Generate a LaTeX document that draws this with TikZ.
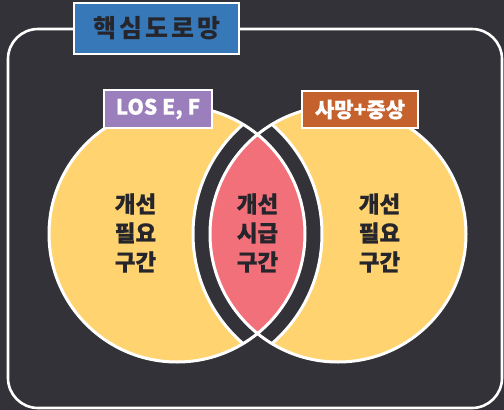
\documentclass[tikz,border=0pt]{standalone}
\usepackage{fontspec}
\newfontfamily\kr{Noto Sans CJK KR}[BoldFeatures={FakeBold=0.6}]
\newfontfamily\krt{Noto Sans CJK KR}[LetterSpace=12]
\definecolor{bg}{HTML}{333238}
\definecolor{yel}{HTML}{FFD36F}
\definecolor{lensred}{HTML}{F2707A}
\definecolor{tblue}{HTML}{3779B8}
\definecolor{tpurple}{HTML}{9A7FBC}
\definecolor{torange}{HTML}{C5612D}
\definecolor{txt}{HTML}{25252B}
\tikzset{
  labelbox/.style={draw=white, line width=2pt, inner sep=0pt, text=white,
    font=\kr\bfseries\fontsize{21}{21}\selectfont},
  areatext/.style={align=center, text=txt, inner sep=0pt,
    font=\kr\bfseries\fontsize{22.5}{29}\selectfont},
  outline/.style={white, line width=3pt}
}
\begin{document}
\begin{tikzpicture}[x=1pt,y=-1pt]
\fill[bg] (0,0) rectangle (504,410);
\useasboundingbox (0,0) rectangle (504,410);
\draw[outline, line width=2.6pt, rounded corners=30pt] (8,29) rectangle (502,408);
\coordinate (cL) at (177,234);
\coordinate (cR) at (338,234);
% circles
\fill[yel] (cL) circle[radius=128pt];
\fill[yel] (cR) circle[radius=128pt];
% dark band around the overlap
\begin{scope}
  \clip (cL) circle[radius=145pt];
  \fill[bg] (cR) circle[radius=145pt];
\end{scope}
\begin{scope}
  \clip (cL) circle[radius=128pt];
  \draw[outline] (cR) circle[radius=145pt];
\end{scope}
\begin{scope}
  \clip (cR) circle[radius=128pt];
  \draw[outline] (cL) circle[radius=145pt];
\end{scope}
% overlap
\begin{scope}
  \clip (cL) circle[radius=128pt];
  \fill[lensred] (cR) circle[radius=128pt];
\end{scope}
\draw[outline] (cL) circle[radius=128pt] (cR) circle[radius=128pt];
% title
\node[labelbox, fill=tblue, text=txt, minimum width=165pt, minimum height=51pt,
  font=\krt\bfseries\fontsize{25}{25}\selectfont] (title) at (156.5,28.5) {핵심도로망};
\node[labelbox, fill=tpurple, minimum width=108pt, minimum height=38pt] (los) at (158,109) {LOS E, F};
\node[labelbox, fill=torange, minimum width=116pt, minimum height=37pt] (acc) at (360,109.5) {사망+중상};
% area texts
\node[areatext] (left) at (135.5,233) {개선\\필요\\구간};
\node[areatext] (mid) at (257.5,233) {개선\\시급\\구간};
\node[areatext] (right) at (379.5,233) {개선\\필요\\구간};
\end{tikzpicture}
\end{document}
